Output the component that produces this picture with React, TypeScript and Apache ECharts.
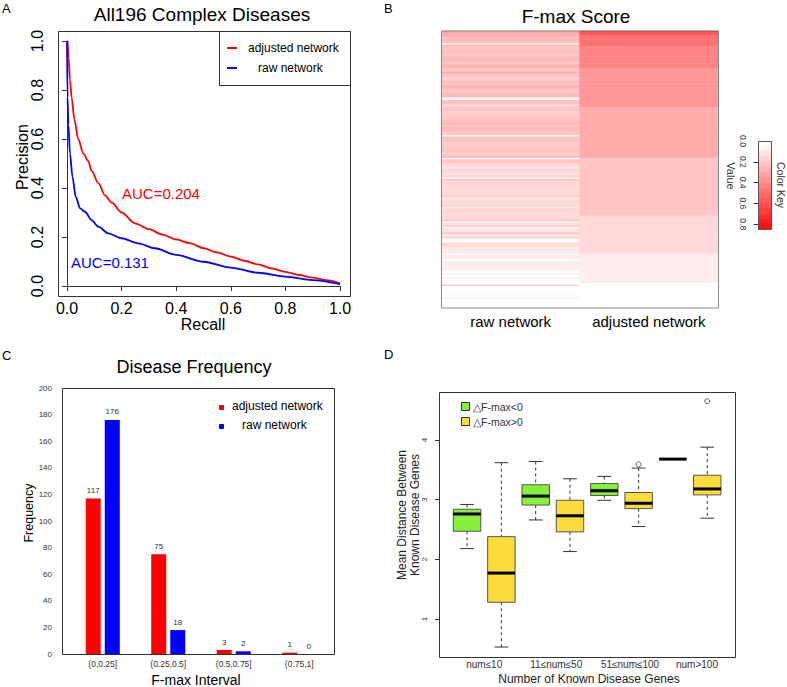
import React, { useEffect, useRef } from 'react';
import * as echarts from 'echarts';

const FONT = '"Liberation Sans", Arial, Helvetica, sans-serif';

// ---------- Panel A: precision-recall curves ----------
const adjustedPR: number[][] = [
  [0.002, 1.0], [0.006, 0.93], [0.011, 0.84], [0.017, 0.77], [0.027, 0.68], [0.041, 0.6],
  [0.06, 0.54], [0.078, 0.51], [0.09, 0.47], [0.115, 0.42], [0.139, 0.37], [0.164, 0.34],
  [0.2, 0.3], [0.249, 0.256], [0.3, 0.232], [0.35, 0.21], [0.4, 0.19], [0.45, 0.175],
  [0.5, 0.155], [0.55, 0.137], [0.6, 0.12], [0.65, 0.103], [0.7, 0.088], [0.75, 0.072],
  [0.8, 0.058], [0.85, 0.045], [0.9, 0.034], [0.95, 0.024], [1.0, 0.011],
];
const rawPR: number[][] = [
  [0.0, 1.0], [0.002, 0.77], [0.005, 0.66], [0.011, 0.54], [0.02, 0.446], [0.032, 0.364],
  [0.048, 0.317], [0.066, 0.303], [0.09, 0.269], [0.115, 0.242], [0.151, 0.215], [0.2, 0.195],
  [0.261, 0.174], [0.322, 0.154], [0.4, 0.127], [0.5, 0.099], [0.6, 0.075], [0.7, 0.054],
  [0.8, 0.038], [0.9, 0.024], [1.0, 0.008],
];
const aucAdjusted = 'AUC=0.204';
const aucRaw = 'AUC=0.131';

// ---------- Panel B: F-max heatmap (runs of [value, number of rows]) ----------
const heatColumns = ['raw network', 'adjusted network'];
const rawFmaxRuns: number[][] = [
  [0.30, 2], [0.26, 1], [0.28, 1], [0.21, 2], [0.26, 1], [0.20, 2], [0.02, 1], [0.26, 1], [0.19, 3],
  [0.21, 3], [0.16, 1], [0.23, 4], [0.19, 2], [0.26, 2], [0.20, 3], [0.28, 1], [0.20, 3], [0.16, 2],
  [0.21, 4], [0.26, 2], [0.19, 3], [0.23, 3], [0.08, 1], [0.02, 1], [0.21, 3], [0.14, 2], [0.20, 3],
  [0.16, 3], [0.19, 3],
  [0.21, 2], [0.24, 2], [0.19, 1], [0.23, 3], [0.19, 3], [0.02, 1], [0.20, 4], [0.17, 3], [0.20, 4],
  [0.17, 3], [0.26, 1], [0.02, 1], [0.19, 3], [0.14, 2], [0.09, 2], [0.14, 3], [0.09, 1], [0.14, 2],
  [0.02, 1], [0.23, 1], [0.14, 3], [0.13, 8], [0.19, 1], [0.08, 2], [0.13, 5], [0.07, 1], [0.14, 3],
  [0.13, 5], [0.20, 1], [0.02, 1], [0.10, 2], [0.19, 1], [0.02, 1], [0.09, 3], [0.19, 1], [0.09, 2],
  [0.16, 1], [0.05, 1], [0, 2], [0.12, 3], [0.07, 5], [0, 1], [0.07, 3], [0, 1], [0.06, 7], [0, 2],
  [0.06, 1], [0, 2], [0.06, 1], [0, 4], [0.19, 1], [0, 8], [0.07, 1], [0, 6],
];
const adjustedFmaxRuns: number[][] = [
  [0.72, 1], [0.55, 2], [0.47, 8], [0.41, 15], [0.35, 28], [0.28, 36], [0.2, 41], [0.13, 27],
  [0.06, 21], [0, 17],
];
const colorKeyLevels = [0, 0.05, 0.1, 0.15, 0.2, 0.25, 0.3, 0.35, 0.4, 0.45, 0.5, 0.55, 0.6, 0.65, 0.7, 0.75, 0.8];
const colorKeyMax = 0.846;
const colorKeyTickValues = [0.2, 0.4, 0.6, 0.8];
const colorKeyLabelValues = [0, 0.2, 0.4, 0.6, 0.8];

// ---------- Panel C: frequency bars ----------
const fmaxIntervals = ['(0,0.25]', '(0.25,0.5]', '(0.5,0.75]', '(0.75,1]'];
const adjustedCounts = [117, 75, 3, 1];
const rawCounts = [176, 18, 2, 0];

// ---------- Panel D: boxplots ----------
const geneGroups = ['num≤10', '11≤num≤50', '51≤num≤100', 'num>100'];
const groupLabelPos = [1.5, 3.6, 5.75, 7.7];
// [min, q1, median, q3, max]
const negDeltaStats = [
  [2.18, 2.47, 2.76, 2.84, 2.92],
  [2.66, 2.91, 3.06, 3.25, 3.64],
  [2.99, 3.07, 3.15, 3.27, 3.39],
  [3.68, 3.68, 3.68, 3.68, 3.68],
];
const posDeltaStats = [
  [0.53, 1.28, 1.77, 2.38, 3.62],
  [2.13, 2.46, 2.73, 2.99, 3.35],
  [2.55, 2.85, 2.94, 3.12, 3.53],
  [2.69, 3.08, 3.18, 3.41, 3.88],
];
const posOutliers = [[3, 3.59], [4, 4.65]]; // [group (1-based), value]

const GREEN = '#86F03B';
const YELLOW = '#FCDC3B';

const expand = (runs: number[][]) => runs.flatMap(([v, n]) => Array(n).fill(v));

function buildOption() {
  const rawFmax = expand(rawFmaxRuns);
  const adjFmax = expand(adjustedFmaxRuns);
  const rowNames = rawFmax.map((_, i) => 'd' + (i + 1));
  const heatData = [
    ...rawFmax.map((v, i) => [0, i, v]),
    ...adjFmax.map((v, i) => [1, i, v]),
  ];
  const keyData = colorKeyLevels.map((v, i) => [0, i, v]);

  const boxData = [
    ...negDeltaStats.map((s, g) => [2 * g + 1, ...s, 0]),
    ...posDeltaStats.map((s, g) => [2 * g + 2, ...s, 1]),
  ];
  const outlierData = posOutliers.map(([g, v]) => [2 * g, v]);

  const txt = (text: string, x: number, y: number, size: number, o: any = {}) => ({
    type: 'text', x, y, rotation: o.rot || 0, z: 100,
    style: {
      text, fontSize: size, fontFamily: FONT, fill: o.color || '#000',
      align: o.align || 'center', verticalAlign: 'middle',
    },
  });
  const frame = (x: number, y: number, w: number, h: number, stroke = '#333') => ({
    type: 'rect', z: 100, shape: { x: x + 0.5, y: y + 0.5, width: w, height: h },
    style: { fill: 'none', stroke, lineWidth: 1 },
  });
  const seg = (x1: number, y1: number, x2: number, y2: number, stroke: string, w = 2) => ({
    type: 'line', z: 100, shape: { x1, y1, x2, y2 }, style: { stroke, lineWidth: w },
  });
  const sq = (x: number, y: number, s: number, fill: string, stroke = fill) => ({
    type: 'rect', z: 100, shape: { x: x + 0.5, y: y + 0.5, width: s, height: s },
    style: { fill, stroke, lineWidth: 1 },
  });

  const noSplit = { show: false };

  return {
    animation: false,
    backgroundColor: '#fff',
    textStyle: { fontFamily: FONT },
    grid: [
      { left: 67, top: 41, width: 273, height: 245 },
      { left: 441.5, top: 31, width: 276.5, height: 276.5 },
      { left: 758.5, top: 141, width: 13, height: 88 },
      { left: 70, top: 388, width: 262, height: 266 },
      { left: 449.9, top: 440, width: 274.5, height: 179 },
    ],
    xAxis: [
      {
        type: 'value', gridIndex: 0, min: 0, max: 1, interval: 0.2, offset: 10,
        axisLine: { show: true, lineStyle: { color: '#333' } },
        axisTick: { show: true, length: 5, lineStyle: { color: '#333' } },
        axisLabel: { fontSize: 16, color: '#000', margin: 4, formatter: (v: number) => v.toFixed(1) },
        splitLine: noSplit,
      },
      {
        type: 'category', gridIndex: 1, data: heatColumns,
        axisLine: { show: false }, axisTick: { show: false },
        axisLabel: { fontSize: 15, color: '#000', margin: 6, interval: 0, hideOverlap: false },
      },
      { type: 'category', gridIndex: 2, data: ['key'], show: false },
      {
        type: 'category', gridIndex: 3, data: fmaxIntervals,
        axisLine: { show: false }, axisTick: { show: false },
        axisLabel: { fontSize: 8.5, color: '#333', margin: 5, interval: 0 },
      },
      {
        type: 'value', gridIndex: 4, min: 0.5, max: 8.5, offset: 38,
        axisLine: { show: false }, axisTick: { show: false }, splitLine: noSplit,
        axisLabel: {
          fontSize: 10, color: '#333', margin: 2, customValues: groupLabelPos,
          formatter: (v: number) => {
            const i = groupLabelPos.findIndex((p) => Math.abs(p - v) < 1e-6);
            return i >= 0 ? geneGroups[i] : '';
          },
        },
      },
    ],
    yAxis: [
      {
        type: 'value', gridIndex: 0, min: 0, max: 1, interval: 0.2, offset: 9,
        axisLine: { show: true, lineStyle: { color: '#333' } },
        axisTick: { show: true, length: 5, lineStyle: { color: '#333' } },
        axisLabel: { fontSize: 16, color: '#000', margin: 13, rotate: 90, formatter: (v: number) => v.toFixed(1) },
        splitLine: noSplit,
      },
      { type: 'category', gridIndex: 1, data: rowNames, inverse: true, show: false },
      { type: 'category', gridIndex: 2, data: colorKeyLevels.map(String), inverse: true, show: false },
      {
        type: 'value', gridIndex: 2, min: 0, max: colorKeyMax, inverse: true, position: 'left',
        axisLine: { show: false },
        axisTick: { show: true, length: 5, customValues: colorKeyTickValues, lineStyle: { color: '#333' } },
        axisLabel: {
          fontSize: 8.5, color: '#333', margin: 11, rotate: -90, customValues: colorKeyLabelValues,
          formatter: (v: number) => v.toFixed(1),
        },
        splitLine: noSplit,
      },
      {
        type: 'value', gridIndex: 3, min: 0, max: 200, interval: 20,
        axisLine: { show: false }, axisTick: { show: false }, splitLine: noSplit,
        axisLabel: { fontSize: 8, color: '#333', margin: 18 },
      },
      {
        type: 'value', gridIndex: 4, min: 1, max: 4, interval: 1, offset: 10.9,
        axisLine: { show: true, lineStyle: { color: '#333' } },
        axisTick: { show: true, length: 4, lineStyle: { color: '#333' } },
        axisLabel: { fontSize: 8, color: '#333', margin: 11, rotate: 90 },
        splitLine: noSplit,
      },
    ],
    visualMap: [
      {
        type: 'continuous', show: false, min: 0, max: colorKeyMax, dimension: 2,
        seriesIndex: [2, 3], inRange: { color: ['#FFFFFF', '#FF0000'] },
      },
    ],
    series: [
      {
        type: 'line', name: 'adjusted network', xAxisIndex: 0, yAxisIndex: 0, data: adjustedPR,
        showSymbol: false, symbol: 'none', smooth: 0.3, smoothMonotone: 'x',
        lineStyle: { color: '#FF0000', width: 1.8 }, z: 3,
      },
      {
        type: 'line', name: 'raw network', xAxisIndex: 0, yAxisIndex: 0, data: rawPR,
        showSymbol: false, symbol: 'none', smooth: 0.3, smoothMonotone: 'x',
        lineStyle: { color: '#0000FF', width: 1.8 },
      },
      {
        type: 'heatmap', xAxisIndex: 1, yAxisIndex: 1, data: heatData,
        itemStyle: { borderWidth: 0 }, emphasis: { disabled: true },
      },
      {
        type: 'heatmap', xAxisIndex: 2, yAxisIndex: 2, data: keyData,
        itemStyle: { borderWidth: 0 }, emphasis: { disabled: true },
      },
      {
        type: 'bar', name: 'adjusted network', xAxisIndex: 3, yAxisIndex: 4, data: adjustedCounts,
        barWidth: 15, barGap: '27%', itemStyle: { color: '#FF0000' },
        label: { show: true, position: 'top', fontSize: 8, color: '#333', distance: 4 },
      },
      {
        type: 'bar', name: 'raw network', xAxisIndex: 3, yAxisIndex: 4, data: rawCounts,
        barWidth: 15, barGap: '27%', itemStyle: { color: '#0000FF' },
        label: { show: true, position: 'top', fontSize: 8, color: '#333', distance: 4 },
      },
      {
        type: 'custom', xAxisIndex: 4, yAxisIndex: 5, data: boxData,
        encode: { x: 0, y: [1, 2, 3, 4, 5] },
        renderItem: (params: any, api: any) => {
          const x = api.value(0);
          const lo = api.coord([x, api.value(1)]);
          const q1 = api.coord([x, api.value(2)]);
          const md = api.coord([x, api.value(3)]);
          const q3 = api.coord([x, api.value(4)]);
          const hi = api.coord([x, api.value(5)]);
          const fill = api.value(6) === 0 ? GREEN : YELLOW;
          const w = api.size([1, 0])[0] * 0.8;
          const cx = md[0];
          const st = { stroke: '#333', lineWidth: 1 };
          return {
            type: 'group',
            children: [
              { type: 'line', shape: { x1: cx, y1: hi[1], x2: cx, y2: q3[1] }, style: { ...st, lineDash: [3, 3] } },
              { type: 'line', shape: { x1: cx, y1: q1[1], x2: cx, y2: lo[1] }, style: { ...st, lineDash: [3, 3] } },
              { type: 'line', shape: { x1: cx - w / 4, y1: hi[1], x2: cx + w / 4, y2: hi[1] }, style: st },
              { type: 'line', shape: { x1: cx - w / 4, y1: lo[1], x2: cx + w / 4, y2: lo[1] }, style: st },
              {
                type: 'rect', shape: { x: cx - w / 2, y: q3[1], width: w, height: q1[1] - q3[1] },
                style: { fill, stroke: '#555', lineWidth: 1 },
              },
              { type: 'line', shape: { x1: cx - w / 2, y1: md[1], x2: cx + w / 2, y2: md[1] }, style: { stroke: '#000', lineWidth: 3 } },
            ],
          };
        },
      },
      {
        type: 'scatter', xAxisIndex: 4, yAxisIndex: 5, data: outlierData, clip: false, z: 5,
        symbol: 'circle', symbolSize: 5, itemStyle: { color: '#ffffff', borderColor: '#333333', borderWidth: 1 },
      },
    ],
    graphic: [
      // panel letters
      txt('A', 2, 8, 13, { align: 'left' }),
      txt('B', 384, 8, 13, { align: 'left' }),
      txt('C', 2, 355, 13, { align: 'left' }),
      txt('D', 384, 354, 13, { align: 'left' }),
      // Panel A
      txt('All196 Complex Diseases', 202, 14, 19),
      frame(58, 31, 292, 265),
      frame(219, 31, 131, 54),
      seg(227, 48, 237, 48, '#FF0000'),
      seg(227, 68, 237, 68, '#0000FF'),
      txt('adjusted network', 248, 48, 12, { align: 'left' }),
      txt('raw network', 258, 68, 12, { align: 'left' }),
      txt(aucAdjusted, 122, 193, 15, { align: 'left', color: '#FF0000' }),
      txt(aucRaw, 71, 262, 15, { align: 'left', color: '#0000FF' }),
      txt('Recall', 203, 324, 16),
      txt('Precision', 22, 157, 16, { rot: Math.PI / 2 }),
      // Panel B
      txt('F-max Score', 576, 16, 19),
      frame(441, 30.5, 277, 277, '#888'),
      frame(758, 141, 13, 88, '#555'),
      txt('Value', 731, 176, 11, { rot: -Math.PI / 2, color: '#333' }),
      txt('Color Key', 781, 185, 10.5, { rot: -Math.PI / 2, color: '#333' }),
      // Panel C
      txt('Disease Frequency', 194, 367, 18),
      frame(62, 388, 272, 266),
      sq(219, 405, 4, '#FF0000'),
      sq(219, 424, 4, '#0000FF'),
      txt('adjusted network', 232, 406, 12, { align: 'left' }),
      txt('raw network', 242, 425, 12, { align: 'left' }),
      txt('Frequency', 29, 513, 12.5, { rot: Math.PI / 2 }),
      txt('F-max Interval', 196, 680, 14),
      // Panel D
      frame(439, 392, 296, 265),
      sq(461, 402, 8, GREEN, '#333'),
      sq(461, 417, 8, YELLOW, '#333'),
      txt('△F-max<0', 473, 406.5, 10.5, { align: 'left', color: '#333' }),
      txt('△F-max>0', 473, 421.5, 10.5, { align: 'left', color: '#333' }),
      txt('Mean Distance Between', 402, 515, 12, { rot: Math.PI / 2, color: '#222' }),
      txt('Known Disease Genes', 415, 515, 12, { rot: Math.PI / 2, color: '#222' }),
      txt('Number of Known Disease Genes', 589, 679, 12, { color: '#222' }),
    ],
  };
}

export default function App() {
  const ref = useRef<HTMLDivElement>(null);
  useEffect(() => {
    if (!ref.current) return;
    const chart = echarts.init(ref.current, null, { renderer: 'svg' });
    chart.setOption(buildOption() as any);
    return () => chart.dispose();
  }, []);
  return (
    <div
      ref={ref}
      style={{ position: 'absolute', left: 0, top: 0, width: 787, height: 687, background: '#fff' }}
    />
  );
}
